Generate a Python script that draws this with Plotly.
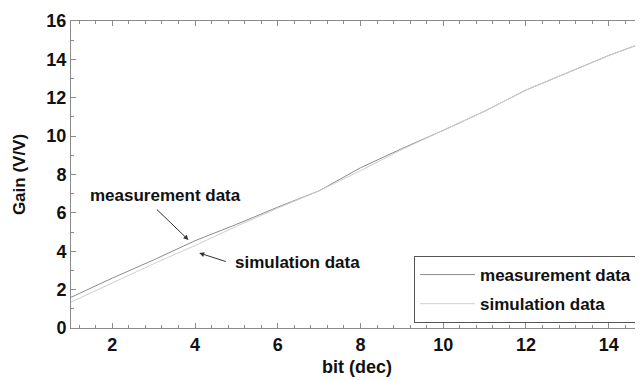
import plotly.graph_objects as go

# ---- data ----
bits = [1, 2, 3, 4, 5, 6, 7, 8, 9, 10, 11, 12, 13, 14, 15]
measurement = [1.6, 2.6, 3.55, 4.55, 5.4, 6.3, 7.15, 8.35, 9.35, 10.3, 11.3, 12.4, 13.3, 14.2, 15.0]
simulation = [1.35, 2.35, 3.35, 4.3, 5.3, 6.25, 7.15, 8.2, 9.3, 10.3, 11.3, 12.4, 13.3, 14.2, 15.0]
series_names = ["measurement data", "simulation data"]
x_ticks = [2, 4, 6, 8, 10, 12, 14]
y_ticks = [0, 2, 4, 6, 8, 10, 12, 14, 16]

# annotation anchor points (data coordinates)
meas_label = (3.28, 6.93)
meas_tail = (3.04, 6.25)
meas_head = (3.84, 4.59)
sim_label = (6.47, 3.44)
sim_tail = (4.78, 3.44)
sim_head = (4.10, 3.91)

FONT = "Liberation Sans"
AXC = "#8a8a8a"

fig = go.Figure()
fig.add_trace(go.Scatter(x=bits, y=measurement, mode="lines", name=series_names[0],
                         line=dict(color="#8c8c8c", width=1), legendgroup="m"))
fig.add_trace(go.Scatter(x=bits, y=simulation, mode="lines", name=series_names[1],
                         line=dict(color="#cfcfcf", width=1), legendgroup="s"))

axis_common = dict(showline=True, linecolor=AXC, linewidth=1, mirror="ticks",
                   ticks="inside", ticklen=5, tickcolor=AXC, showgrid=False,
                   zeroline=False, automargin=False)

fig.update_xaxes(range=[1, 14.83], tickvals=x_ticks,
                 minor=dict(dtick=0.4, tick0=0, ticks="inside", ticklen=3, tickcolor=AXC),
                 tickfont=dict(family=FONT, size=18, color="#111", weight="bold"),
                 title=dict(text="bit (dec)", standoff=6,
                            font=dict(family=FONT, size=18, color="#111", weight="bold")),
                 **axis_common)
fig.update_yaxes(range=[0, 16], tickvals=y_ticks,
                 minor=dict(dtick=1, ticks="inside", ticklen=3, tickcolor=AXC),
                 tickfont=dict(family=FONT, size=18, color="#111", weight="bold"),
                 title=dict(text="Gain (V/V)", standoff=16,
                            font=dict(family=FONT, size=17, color="#111", weight="bold")),
                 **axis_common)

ann_font = dict(family=FONT, size=17, color="#111", weight="bold")
fig.add_annotation(x=meas_label[0], y=meas_label[1], text=series_names[0],
                   showarrow=False, font=ann_font)
fig.add_annotation(x=sim_label[0], y=sim_label[1], text=series_names[1],
                   showarrow=False, font=ann_font)
for tail, head in [(meas_tail, meas_head), (sim_tail, sim_head)]:
    fig.add_annotation(x=head[0], y=head[1], ax=tail[0], ay=tail[1],
                       axref="x", ayref="y", text="", showarrow=True,
                       arrowhead=2, arrowsize=1, arrowwidth=1, arrowcolor="#333")

# page body has an 8px default margin; compensate so the plot area lands
# where it is in the reference window
fig.update_layout(
    width=643, height=380,
    margin=dict(l=63, r=8, t=13, b=60),
    paper_bgcolor="white", plot_bgcolor="white",
    showlegend=True,
    legend=dict(x=0.5997, y=0.2345, xanchor="left", yanchor="top",
                bgcolor="white", bordercolor="#555", borderwidth=1,
                font=dict(family=FONT, size=17, color="#111", weight="bold"),
                itemwidth=55, traceorder="grouped", tracegroupgap=4),
)

fig.write_html("out.html")
